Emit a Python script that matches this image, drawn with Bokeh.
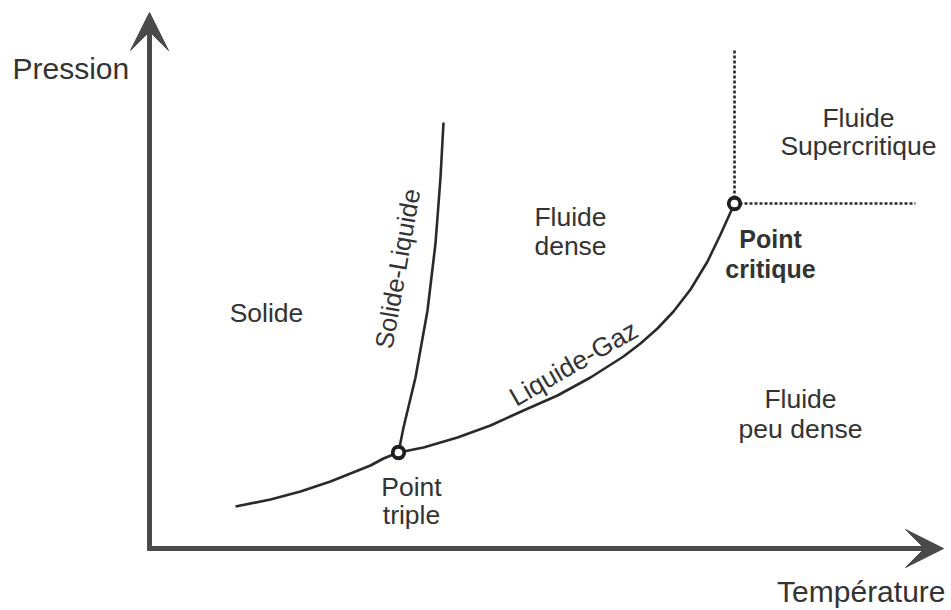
import math
from bokeh.plotting import figure
from bokeh.models import Range1d, Arrow, VeeHead, ColumnDataSource
from bokeh.core.properties import value
from bokeh.embed import file_html
from bokeh.resources import INLINE

# ---- data (arbitrary temperature / pressure units) ----
sublimation_T = [86, 121, 151, 181, 201, 221, 234, 249]
sublimation_P = [42, 49, 57, 67, 75, 83, 90, 96]

vaporisation_T = [249, 274, 308, 341, 374, 408, 441, 474, 491, 508, 524, 541, 558, 571, 585]
vaporisation_P = [96, 101, 111, 123, 138, 153, 171, 192, 205, 220, 237, 259, 287, 314, 345]

fusion_T = [249, 254, 266, 278, 286, 291, 294]
fusion_P = [96, 121, 171, 238, 305, 371, 426]

triple_T, triple_P = 249, 96
critical_T, critical_P = 585, 345
supercritical_T_max = 766
supercritical_P_max = 500

axis_T_max = 794
axis_P_max = 536

axis_labels = ["Pression", "Température"]
region_labels = ["Solide", "Fluide", "dense", "Fluide", "Supercritique",
                 "Fluide", "peu dense", "Point", "triple"]
bold_labels = ["Point", "critique"]
curve_labels = ["Solide-Liquide", "Liquide-Gaz"]

# ---- styles ----
FONT = value("Liberation Sans")
TXT = "#333333"
LINE = "#2a2a2a"
AXIS = "#4a4a4a"
DY = 10  # baseline correction for alphabetic text

p = figure(width=951, height=610,
           x_range=Range1d(-149, 802), y_range=Range1d(-62, 548),
           x_axis_type=None, y_axis_type=None,
           output_backend="svg", toolbar_location=None, min_border=0)
p.outline_line_color = None
p.background_fill_color = "white"
p.border_fill_color = "white"

# axes with arrow heads
p.add_layout(Arrow(end=VeeHead(size=38, fill_color=AXIS, line_color=AXIS, line_width=1),
                   x_start=0, y_start=-2, x_end=0, y_end=axis_P_max,
                   line_color=AXIS, line_width=5))
p.add_layout(Arrow(end=VeeHead(size=38, fill_color=AXIS, line_color=AXIS, line_width=1),
                   x_start=-2, y_start=0, x_end=axis_T_max, y_end=0,
                   line_color=AXIS, line_width=5))

# phase boundaries
p.line(sublimation_T, sublimation_P, line_color=LINE, line_width=2.6, line_join="round")
p.line(vaporisation_T, vaporisation_P, line_color=LINE, line_width=2.6, line_join="round")
p.line(fusion_T, fusion_P, line_color=LINE, line_width=2.6, line_join="round")

# supercritical dotted limits
p.line([critical_T, critical_T], [critical_P, supercritical_P_max],
       line_color=LINE, line_width=2.6, line_dash="3 2")
p.line([critical_T, supercritical_T_max], [critical_P, critical_P],
       line_color=LINE, line_width=2.6, line_dash="3 2")

# special points
p.scatter([triple_T, critical_T], [triple_P, critical_P], size=11.5,
          fill_color="white", line_color="#1e1e1e", line_width=3.8)

# texts
def add_text(texts, xs, ys, size, align="center", baseline="alphabetic",
             style="normal", angle=0.0, dy=DY):
    src = ColumnDataSource(dict(x=xs, y=[v + dy for v in ys], t=texts))
    p.text(x="x", y="y", text="t", source=src, text_font=FONT,
           text_font_size=size, text_align=align, text_baseline=baseline,
           text_font_style=style, text_color=TXT, angle=angle)

add_text([axis_labels[0]], [-137], [470], "30px", align="left")
add_text([axis_labels[1]], [796], [-53], "30px", align="right")

add_text(region_labels,
         [117, 421, 421, 709, 709, 651, 651, 262, 262],
         [226, 322, 293, 421, 393, 140, 110, 52, 24], "26.5px")
add_text(bold_labels, [621, 621], [300, 270], "25px", style="bold")

add_text([curve_labels[0]], [248], [280], "25.5px", baseline="middle",
         angle=math.radians(80), dy=0)
add_text([curve_labels[1]], [424], [185], "26.5px", baseline="middle",
         angle=math.radians(30), dy=0)

open("out.html", "w").write(file_html(p, INLINE))
